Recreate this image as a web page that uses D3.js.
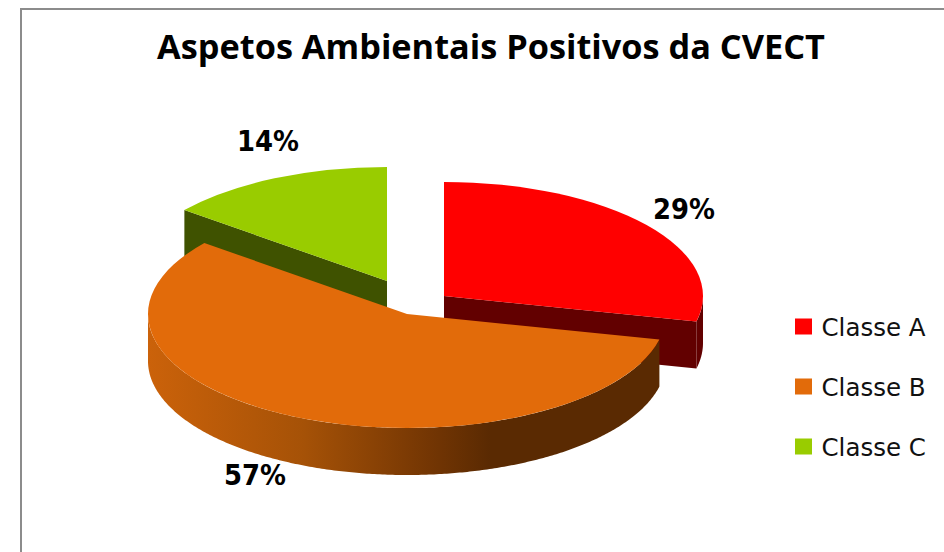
<!DOCTYPE html>
<html>
<head>
<meta charset="utf-8">
<script src="https://cdn.jsdelivr.net/npm/d3@7"></script>
<style>
body { margin:0; background:#fff; }
svg { display:block; }
text { fill:#000; }
</style>
</head>
<body>
<div id="canvas"></div>
<script>
var categories = ['Classe A', 'Classe B', 'Classe C'];
var percentValues = [28.6, 57.1, 14.3];

var canvasWidth = 944,
    canvasHeight = 552;

var topColors = ['#ff0000', '#e26b0a', '#99cc00'];
var wallColors = ['#620000', 'url(#wallB)', '#3f5200'];
// exploded slices: each one has its own centre
var centers = [{x:444,y:296}, {x:407,y:314}, {x:387,y:281}];
var labelPos = [{x:684,y:219}, {x:255,y:485}, {x:268,y:151}];
var legendY = [327, 387, 447];

var rx = 259, ry = 114, depth = 47;
var fmt = function(v){ return Math.round(v) + '%'; };

var svg = d3.select('#canvas')
    .append('svg')
    .attr('width', canvasWidth)
    .attr('height', canvasHeight);

var grad = svg.append('defs').append('linearGradient')
    .attr('id', 'wallB')
    .attr('gradientUnits', 'userSpaceOnUse')
    .attr('x1', 148).attr('x2', 490).attr('y1', 0).attr('y2', 0);
grad.append('stop').attr('offset', '0%').attr('stop-color', '#cb620a');
grad.append('stop').attr('offset', '45%').attr('stop-color', '#a65207');
grad.append('stop').attr('offset', '85%').attr('stop-color', '#703403');
grad.append('stop').attr('offset', '100%').attr('stop-color', '#5a2a02');

// chart frame, only top and left show in the picture
svg.append('path')
    .attr('d', 'M21,552V9H944')
    .attr('fill', 'none')
    .attr('stroke', '#8c8c8c')
    .attr('stroke-width', 2);

svg.append('text')
    .attr('x', 491)
    .attr('y', 59)
    .attr('text-anchor', 'middle')
    .style('font-family', '"Open Sans", sans-serif')
    .style('font-size', '34.3px')
    .style('font-weight', 700)
    .text('Aspetos Ambientais Positivos da CVECT');

var pie = d3.pie().sort(null);
var slices = pie(percentValues);
slices.forEach(function(d, i){ d.index = i; d.c = centers[i]; });

var arc = d3.arc().innerRadius(0).outerRadius(rx);

function px(d, a){ return d.c.x + rx*Math.sin(a); }
function py(d, a){ return d.c.y - ry*Math.cos(a); }

// the outer wall, only the part of the rim that faces the viewer
function rimWall(d){
    var a0 = Math.max(d.startAngle, Math.PI/2),
        a1 = Math.min(d.endAngle, Math.PI*1.5);
    if (a0 >= a1) return null;
    var angles = d3.range(a0, a1, 0.01).concat([a1]);
    return d3.area()
        .x(function(a){ return px(d, a); })
        .y0(function(a){ return py(d, a); })
        .y1(function(a){ return py(d, a) + depth; })(angles);
}

// the flat cut wall going from the centre out to the rim
function cutWall(d, a){
    var t = [0, 1];
    return d3.area()
        .x(function(k){ return d.c.x + k*rx*Math.sin(a); })
        .y0(function(k){ return d.c.y - k*ry*Math.cos(a); })
        .y1(function(k){ return d.c.y - k*ry*Math.cos(a) + depth; })(t);
}

// which cut faces the viewer: red shows its end, green its start, orange none
function visibleCut(d){
    if (d.index == 0) return cutWall(d, d.endAngle);
    if (d.index == 2) return cutWall(d, d.startAngle);
    return null;
}

// back slices first, orange goes on top
var order = [2, 0, 1];
var g = svg.selectAll('g.slice')
    .data(order.map(function(i){ return slices[i]; }))
    .enter().append('g')
    .attr('class', 'slice');

g.append('path')
    .attr('d', visibleCut)
    .attr('fill', function(d){ return wallColors[d.index]; });

g.append('path')
    .attr('d', rimWall)
    .attr('fill', function(d){ return wallColors[d.index]; });

g.append('path')
    .attr('d', arc)
    .attr('transform', function(d){ return 'translate('+d.c.x+','+d.c.y+') scale(1,'+(ry/rx)+')'; })
    .attr('fill', function(d){ return topColors[d.index]; });

// labels are a bit taller and narrower than plain DejaVu bold
svg.selectAll('text.pct')
    .data(slices)
    .enter().append('text')
    .attr('class', 'pct')
    .attr('x', function(d){ return labelPos[d.index].x; })
    .attr('y', function(d){ return labelPos[d.index].y; })
    .attr('text-anchor', 'middle')
    .attr('textLength', 62)
    .attr('lengthAdjust', 'spacingAndGlyphs')
    .style('font-family', '"DejaVu Sans", sans-serif')
    .style('font-size', '27.5px')
    .style('font-weight', 700)
    .text(function(d){ return fmt(d.value); });

var legend = svg.selectAll('g.legend')
    .data(categories)
    .enter().append('g')
    .attr('class', 'legend')
    .attr('transform', function(d, i){ return 'translate(795,'+legendY[i]+')'; });

legend.append('rect')
    .attr('y', -8.5)
    .attr('width', 17)
    .attr('height', 16)
    .attr('fill', function(d, i){ return topColors[i]; });

legend.append('text')
    .attr('x', 26.5)
    .attr('y', 8.5)
    .style('font-family', '"DejaVu Sans", sans-serif')
    .style('font-size', '24.5px')
    .style('fill', '#111')
    .text(function(d){ return d; });
</script>
</body>
</html>
